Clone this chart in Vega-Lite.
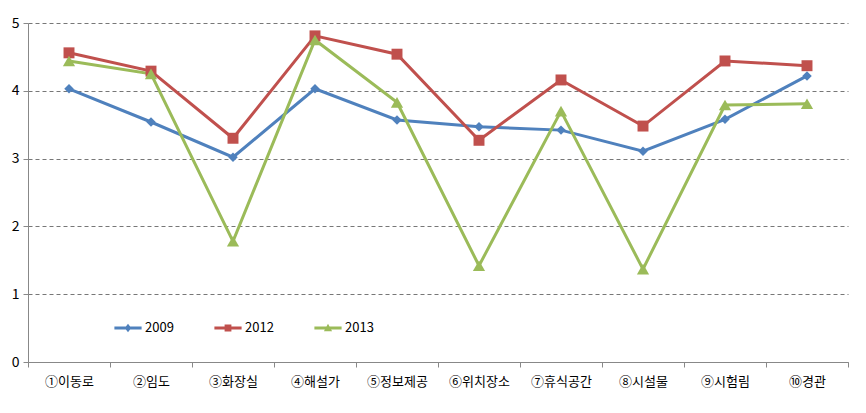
{
  "$schema": "https://vega.github.io/schema/vega-lite/v6.json",
  "width": 820,
  "height": 339,
  "autosize": "none",
  "padding": {"left": 28, "top": 23, "right": 18, "bottom": 51},
  "background": "white",
  "config": {
    "view": {"stroke": null},
    "font": "Noto Sans CJK KR"
  },
  "data": {
    "values": [
      {"cat": "①이동로", "year": "2009", "value": 4.03},
      {"cat": "②임도", "year": "2009", "value": 3.54},
      {"cat": "③화장실", "year": "2009", "value": 3.02},
      {"cat": "④해설가", "year": "2009", "value": 4.03},
      {"cat": "⑤정보제공", "year": "2009", "value": 3.57},
      {"cat": "⑥위치장소", "year": "2009", "value": 3.47},
      {"cat": "⑦휴식공간", "year": "2009", "value": 3.42},
      {"cat": "⑧시설물", "year": "2009", "value": 3.11},
      {"cat": "⑨시험림", "year": "2009", "value": 3.58},
      {"cat": "⑩경관", "year": "2009", "value": 4.22},
      {"cat": "①이동로", "year": "2012", "value": 4.56},
      {"cat": "②임도", "year": "2012", "value": 4.29},
      {"cat": "③화장실", "year": "2012", "value": 3.30},
      {"cat": "④해설가", "year": "2012", "value": 4.81},
      {"cat": "⑤정보제공", "year": "2012", "value": 4.54},
      {"cat": "⑥위치장소", "year": "2012", "value": 3.27},
      {"cat": "⑦휴식공간", "year": "2012", "value": 4.16},
      {"cat": "⑧시설물", "year": "2012", "value": 3.48},
      {"cat": "⑨시험림", "year": "2012", "value": 4.44},
      {"cat": "⑩경관", "year": "2012", "value": 4.37},
      {"cat": "①이동로", "year": "2013", "value": 4.44},
      {"cat": "②임도", "year": "2013", "value": 4.25},
      {"cat": "③화장실", "year": "2013", "value": 1.78},
      {"cat": "④해설가", "year": "2013", "value": 4.75},
      {"cat": "⑤정보제공", "year": "2013", "value": 3.83},
      {"cat": "⑥위치장소", "year": "2013", "value": 1.42},
      {"cat": "⑦휴식공간", "year": "2013", "value": 3.70},
      {"cat": "⑧시설물", "year": "2013", "value": 1.37},
      {"cat": "⑨시험림", "year": "2013", "value": 3.79},
      {"cat": "⑩경관", "year": "2013", "value": 3.81}
    ]
  },
  "encoding": {
    "x": {
      "field": "cat",
      "type": "nominal",
      "sort": null,
      "scale": {"type": "band", "paddingInner": 0, "paddingOuter": 0},
      "axis": {
        "title": null,
        "labelAngle": 0,
        "labelFontSize": 13,
        "labelColor": "#000",
        "labelPadding": 8,
        "domainColor": "#888",
        "tickColor": "#888",
        "tickSize": 5,
        "tickBand": "extent",
        "grid": false
      }
    },
    "y": {
      "field": "value",
      "type": "quantitative",
      "scale": {"domain": [0, 5], "nice": false},
      "axis": {
        "title": null,
        "values": [0, 1, 2, 3, 4, 5],
        "labelFontSize": 14,
        "labelColor": "#000",
        "labelPadding": 4,
        "domainColor": "#888",
        "tickColor": "#888",
        "tickSize": 5,
        "grid": true,
        "gridColor": "#777",
        "gridDash": [4, 3],
        "gridWidth": 1
      }
    },
    "color": {
      "field": "year",
      "type": "nominal",
      "scale": {"domain": ["2009", "2012", "2013"], "range": ["#4F81BD", "#C0504D", "#9BBB59"]},
      "legend": {
        "title": null,
        "orient": "none",
        "direction": "horizontal",
        "legendX": 86,
        "legendY": 291,
        "symbolSize": 740,
        "symbolOpacity": 1,
        "symbolStrokeWidth": 0,
        "labelFontSize": 13,
        "labelColor": "#000",
        "labelOffset": 3,
        "columnPadding": 40
      }
    }
  },
  "layer": [
    {
      "mark": {"type": "line", "strokeWidth": 3}
    },
    {
      "transform": [{"filter": "datum.year == '2009'"}],
      "mark": {"type": "point", "filled": true, "opacity": 1, "shape": "diamond", "size": 90}
    },
    {
      "transform": [{"filter": "datum.year == '2012'"}],
      "mark": {"type": "point", "filled": true, "opacity": 1, "shape": "square", "size": 120}
    },
    {
      "transform": [{"filter": "datum.year == '2013'"}],
      "mark": {"type": "point", "filled": true, "opacity": 1, "shape": "triangle-up", "size": 150}
    },
    {
      "mark": {"type": "point", "filled": true, "opacity": 0, "size": 740},
      "encoding": {
        "shape": {
          "field": "year",
          "type": "nominal",
          "scale": {"domain": ["2009", "2012", "2013"], "range": [
            "M-1,-0.11H1V0.11H-1Z M0,-0.32L0.24,0L0,0.32L-0.24,0Z",
            "M-1,-0.11H1V0.11H-1Z M-0.25,-0.25H0.25V0.25H-0.25Z",
            "M-1,-0.11H1V0.11H-1Z M0,-0.32L0.3,0.24H-0.3Z"
          ]},
          "legend": {
            "title": null,
            "orient": "none",
            "direction": "horizontal",
            "legendX": 86,
            "legendY": 291,
            "symbolSize": 740,
            "symbolOpacity": 1,
            "symbolStrokeWidth": 0,
            "labelFontSize": 13,
            "labelColor": "#000",
            "labelOffset": 3,
            "columnPadding": 40
          }
        }
      }
    }
  ]
}
